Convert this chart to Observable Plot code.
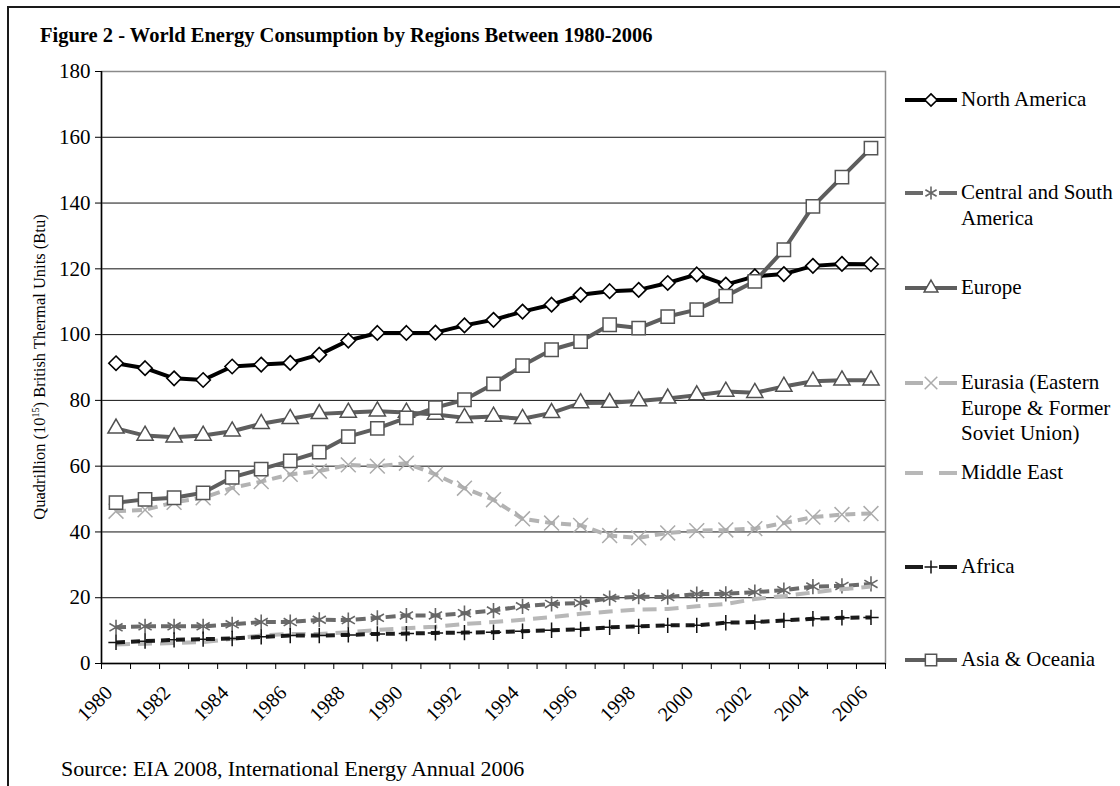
<!DOCTYPE html>
<html>
<head>
<meta charset="utf-8">
<script src="https://cdn.jsdelivr.net/npm/d3@7"></script>
<script src="https://cdn.jsdelivr.net/npm/@observablehq/plot@0.6"></script>
<style>
  html, body { margin: 0; padding: 0; background: #fff; overflow: hidden; }
  #wrap { position: relative; width: 1120px; height: 786px; font-family: "Liberation Serif", "Times New Roman", serif; color: #000; }
  #frame { position: absolute; left: 7px; top: 6px; width: 1300px; height: 1000px; border-left: 2px solid #1a1a1a; border-top: 2px solid #1a1a1a; }
  #chart { position: absolute; left: 0; top: 0; }
  .title { position: absolute; left: 40px; top: 25px; font-size: 20.5px; font-weight: bold; line-height: 20px; white-space: nowrap; }
  .ylabel { position: absolute; left: 40px; top: 367px; font-size: 16.5px; line-height: 16px; white-space: nowrap; transform: translate(-50%, -50%) rotate(-90deg); }
  .ylabel sup { font-size: 10px; vertical-align: 6px; line-height: 0; }
  .caption { position: absolute; left: 61px; top: 758px; font-size: 22px; line-height: 22px; white-space: nowrap; letter-spacing: -0.1px; }
  .lg-text { position: absolute; left: 961px; font-size: 21px; line-height: 25.5px; white-space: pre; }
  .lg-sw { position: absolute; left: 903px; }
</style>
</head>
<body>
<div id="wrap">
  <div id="frame"></div>
  <div id="chart"></div>
  <div class="title">Figure 2 - World Energy Consumption by Regions Between 1980-2006</div>
  <div class="ylabel">Quadrillion (10<sup>15</sup>) British Thermal Units (Btu)</div>
  <div class="caption">Source: EIA 2008, International Energy Annual 2006</div>
</div>
<script>
// ---- Data ----
const years = [1980, 1981, 1982, 1983, 1984, 1985, 1986, 1987, 1988, 1989, 1990, 1991, 1992, 1993,
               1994, 1995, 1996, 1997, 1998, 1999, 2000, 2001, 2002, 2003, 2004, 2005, 2006];
const labelYears = [1980, 1982, 1984, 1986, 1988, 1990, 1992, 1994, 1996, 1998, 2000, 2002, 2004, 2006];
const yTicks = [0, 20, 40, 60, 80, 100, 120, 140, 160, 180];

const regions = ["North America", "Central and South America", "Europe",
  "Eurasia (Eastern Europe & Former Soviet Union)", "Middle East", "Africa", "Asia & Oceania"];
const legendLabels = ["North America", "Central and South\nAmerica", "Europe",
  "Eurasia (Eastern\nEurope & Former\nSoviet Union)", "Middle East", "Africa", "Asia & Oceania"];

const northAmerica = [91.3, 89.8, 86.7, 86.2, 90.3, 90.9, 91.4, 93.9, 98.2, 100.5, 100.5, 100.6, 102.8, 104.5,
                      107.0, 109.1, 112.1, 113.2, 113.6, 115.7, 118.3, 115.2, 117.7, 118.4, 120.9, 121.5, 121.4];
const centralSouthAmerica = [11.0, 11.3, 11.3, 11.3, 11.9, 12.6, 12.6, 13.3, 13.2, 13.9, 14.6, 14.6, 15.3, 16.1,
                      17.4, 18.1, 18.4, 19.9, 20.3, 20.2, 21.1, 21.2, 21.7, 22.3, 23.4, 23.6, 24.2];
const europe = [71.5, 69.3, 68.8, 69.3, 70.6, 72.9, 74.4, 75.9, 76.3, 76.7, 76.3, 75.7, 74.7, 75.1,
                74.4, 76.2, 79.2, 79.3, 79.8, 80.6, 81.6, 82.7, 82.3, 84.2, 85.8, 86.1, 86.1];
const eurasia = [46.3, 46.7, 49.0, 50.4, 53.4, 55.3, 57.5, 58.5, 60.4, 60.0, 60.9, 57.5, 53.3, 49.8,
                 44.0, 42.7, 42.0, 38.9, 38.2, 39.7, 40.4, 40.6, 41.0, 42.7, 44.5, 45.3, 45.6];
const middleEast = [5.8, 6.0, 6.2, 6.5, 7.5, 8.5, 9.0, 9.0, 9.5, 10.2, 10.7, 11.2, 12.0, 12.6,
                    13.3, 14.1, 15.1, 15.8, 16.4, 16.6, 17.4, 18.1, 19.6, 20.5, 21.6, 22.6, 23.4];
const africa = [6.4, 6.8, 7.2, 7.4, 7.6, 8.1, 8.5, 8.5, 8.7, 9.0, 9.1, 9.3, 9.4, 9.5,
                9.8, 10.1, 10.4, 11.0, 11.3, 11.6, 11.6, 12.4, 12.6, 13.1, 13.6, 13.9, 14.0];
const asiaOceania = [48.9, 49.9, 50.4, 51.9, 56.6, 59.1, 61.6, 64.3, 69.0, 71.5, 74.7, 77.8, 80.2, 85.0,
                     90.6, 95.4, 97.9, 103.0, 102.0, 105.5, 107.6, 111.7, 116.2, 125.8, 139.0, 147.9, 156.7];

const seriesValues = [northAmerica, centralSouthAmerica, europe, eurasia, middleEast, africa, asiaOceania];

// ---- Styles (separate from data) ----
const styles = [
  {color: "#000000", dash: null,   symbol: "diamond2", r: 6.5, fill: "#fff", mstroke: "#000", mwidth: 1.6},
  {color: "#6a6a6a", dash: "10,5", symbol: "asterisk", r: 7.2, fill: "none", mstroke: "#666", mwidth: 1.6},
  {color: "#5e5e5e", dash: null,   symbol: "triangle", r: 6.0, fill: "#fff", mstroke: "#505050", mwidth: 1.5},
  {color: "#b3b3b3", dash: "10,6", symbol: "times",    r: 6.8, fill: "none", mstroke: "#ababab", mwidth: 1.5},
  {color: "#b8b8b8", dash: "14,8", symbol: null},
  {color: "#1c1c1c", dash: "9,6",  symbol: "plus",     r: 5.0, fill: "none", mstroke: "#111", mwidth: 1.5},
  {color: "#5e5e5e", dash: null,   symbol: "square",   r: 7.5, fill: "#fff", mstroke: "#555", mwidth: 1.5}
];
const legendY = [100, 193, 288, 383, 473, 567, 660];

// ---- Table ----
const table = [];
regions.forEach((name, i) => seriesValues[i].forEach((v, j) => table.push({region: name, year: years[j], value: v})));

const edges = years.map(y => y - 0.5).concat([years[years.length - 1] + 0.5]);
const grid = yTicks.filter(t => t > 0 && t < 180);

const marks = [
  Plot.ruleY(grid, {stroke: "#111", strokeWidth: 1}),
  Plot.frame({stroke: "#8a8a8a", strokeWidth: 1.5}),
  Plot.axisY(yTicks, {tickSize: 6, tickPadding: 5, fontSize: 21, label: null, tickFormat: d => String(d)}),
  Plot.axisX(edges, {tickSize: 6, tickFormat: () => "", label: null}),
  Plot.axisX(labelYears, {tickSize: 0, tickRotate: -45, tickPadding: 26, dx: -7, fontSize: 20, label: null, tickFormat: d => String(d)}),
  Plot.ruleX([edges[0]], {stroke: "#000", strokeWidth: 1.5}),
  Plot.ruleY([0], {stroke: "#000", strokeWidth: 1.5})
];

regions.forEach((name, i) => {
  const s = styles[i];
  const data = table.filter(d => d.region === name);
  marks.push(Plot.line(data, {x: "year", y: "value", stroke: s.color, strokeWidth: 4,
    strokeDasharray: s.dash || undefined, strokeLinejoin: "round", strokeLinecap: "butt"}));
  if (s.symbol) {
    marks.push(Plot.dot(data, {x: "year", y: "value", symbol: s.symbol, r: s.r,
      fill: s.fill, stroke: s.mstroke, strokeWidth: s.mwidth}));
  }
});

const chart = Plot.plot({
  width: 1120, height: 786,
  marginLeft: 101, marginRight: 235, marginTop: 71, marginBottom: 123,
  x: {type: "linear", domain: [edges[0], edges[edges.length - 1]]},
  y: {domain: [0, 180]},
  style: {fontFamily: "Liberation Serif, Times New Roman, serif", fontSize: "18px", color: "#000", background: "transparent", overflow: "visible"},
  marks
});
document.getElementById("chart").appendChild(chart);

// ---- Legend ----
const symbolMap = {diamond2: d3.symbolDiamond2, asterisk: d3.symbolAsterisk, triangle: d3.symbolTriangle,
  times: d3.symbolTimes, plus: d3.symbolPlus, square: d3.symbolSquare};
const wrap = d3.select("#wrap");
regions.forEach((name, i) => {
  const s = styles[i];
  const y = legendY[i];
  const svg = wrap.append("svg").attr("class", "lg-sw").attr("width", 56).attr("height", 20)
    .style("top", (y - 10) + "px");
  if (s.dash) {
    svg.append("line").attr("x1", 2).attr("x2", 20).attr("y1", 10).attr("y2", 10)
      .attr("stroke", s.color).attr("stroke-width", 4);
    svg.append("line").attr("x1", 36).attr("x2", 54).attr("y1", 10).attr("y2", 10)
      .attr("stroke", s.color).attr("stroke-width", 4);
  } else {
    svg.append("line").attr("x1", 2).attr("x2", 54).attr("y1", 10).attr("y2", 10)
      .attr("stroke", s.color).attr("stroke-width", 4);
  }
  if (s.symbol) {
    const rr = s.r * 0.85;
    svg.append("path").attr("transform", "translate(28,10)")
      .attr("d", d3.symbol(symbolMap[s.symbol], Math.PI * rr * rr)())
      .attr("fill", s.fill).attr("stroke", s.mstroke).attr("stroke-width", s.mwidth);
  }
  wrap.append("div").attr("class", "lg-text").style("top", (y - 13) + "px").text(legendLabels[i]);
});
</script>
</body>
</html>
